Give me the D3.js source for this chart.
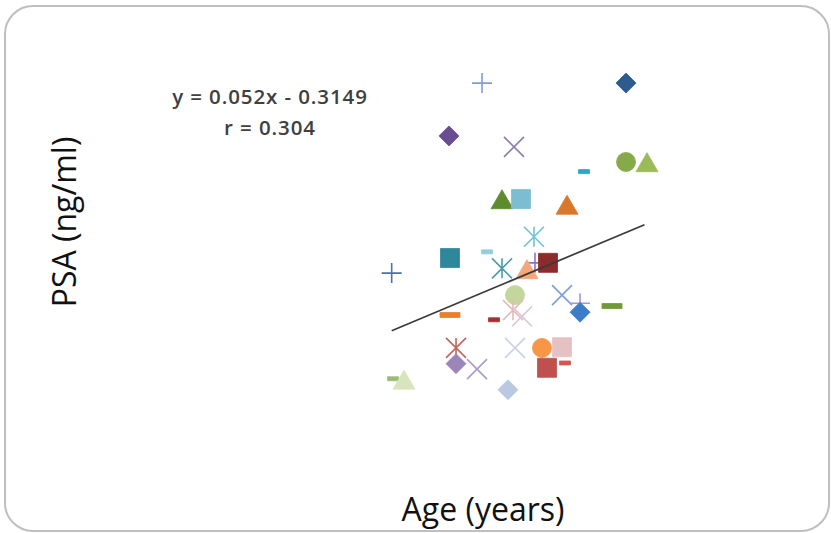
<!DOCTYPE html>
<html>
<head>
<meta charset="utf-8">
<script src="https://cdn.jsdelivr.net/npm/d3@7"></script>
<style>
  html, body { margin: 0; padding: 0; background: #fff; }
  svg { display: block; }
</style>
</head>
<body>
<svg id="chart" width="831" height="533"></svg>
<script>
// ---- Data ----
const ages = [55.71, 72.65, 51.82, 59.47, 67.71, 72.65, 75.12, 58.06, 60.29, 65.71,
              61.82, 51.94, 56.29, 58.06, 61.94, 61.0, 63.47, 45.08, 59.59, 65.12,
              67.24, 67.24, 71.0, 51.94, 57.12, 59.35, 60.41, 52.65, 59.59, 62.76,
              65.12, 52.65, 55.12, 65.47, 63.35, 45.24, 46.53, 58.76];
const psa  = [5.64, 5.64, 4.87, 4.71, 4.35, 4.49, 4.48, 3.94, 3.95, 3.86,
              3.40, 3.09, 3.18, 2.94, 3.02, 2.92, 3.02, 2.87, 2.55, 2.55,
              2.43, 2.30, 2.39, 2.26, 2.19, 2.33, 2.24, 1.78, 1.78, 1.78,
              1.79, 1.55, 1.47, 1.56, 1.49, 1.33, 1.31, 1.17];
// per-series marker style (Excel-like one series per subject)
const markerShapes = ["plus","diamond","diamond","x","shortdash","circle","triangle","triangle","square","triangle",
                      "asterisk","square","shortdash","asterisk","plus","triangle","square","plus","circle","x",
                      "plus","diamond","longdash","longdash","shortdash","asterisk","x","asterisk","x","circle",
                      "square","diamond","x","shortdash","square","shortdash","triangle","diamond"];
const markerColors = ["#7f9ed2","#2c5b8e","#6a4c93","#8c7bab","#31a3c4","#86a94a","#9bbb59","#5f8b2f","#7dbdd1","#d9772b",
                      "#6ec4da","#2f879c","#93cddd","#4b9bab","#8a73c4","#f4a77a","#8b2b2b","#4f6db4","#c3d69b","#7b9fd6",
                      "#a996cf","#3d7cc9","#6f9a35","#e4802f","#a8302e","#e6b9b8","#dcc8dc","#c0665a","#c9cfea","#f79646",
                      "#e6c1c3","#9a86b9","#ab9bcc","#d25757","#c0504d","#9bbb73","#d7e4bd","#b9c9e3"];
const trendSlope = 0.052;
const trendIntercept = -0.3149;
const equationLabel = "y = 0.052x - 0.3149";
const rLabel = "r = 0.304";
const xTitle = "Age (years)";
const yTitle = "PSA (ng/ml)";

// ---- Layout ----
const svg = d3.select("#chart");
const x = d3.scaleLinear().domain([40, 80]).range([348.5, 688.5]);
const y = d3.scaleLinear().domain([0, 6]).range([470, 58.4]);

// chart border
svg.append("rect")
  .attr("x", 5).attr("y", 6).attr("width", 824).attr("height", 525)
  .attr("rx", 28).attr("ry", 28)
  .attr("fill", "#fff").attr("stroke", "#bfbfbf").attr("stroke-width", 2);

const data = ages.map((a, i) => ({age: a, psa: psa[i], shape: markerShapes[i], color: markerColors[i]}));

function shapePath(shape) {
  const h = 10;
  switch (shape) {
    case "square": return `M${-9.5},${-9.5}h19v19h-19z`;
    case "diamond": return `M0,${-10}L10,0L0,10L-10,0Z`;
    case "circle": return d3.symbol(d3.symbolCircle, Math.PI * 9.5 * 9.5)();
    case "triangle": return `M0,${-10}L11,9L-11,9Z`;
    case "plus": return `M${-h},0H${h}M0,${-h}V${h}`;
    case "x": return `M${-h},${-h}L${h},${h}M${-h},${h}L${h},${-h}`;
    case "asterisk": return `M${-h},${-h}L${h},${h}M${-h},${h}L${h},${-h}M0,${-h}V${h}`;
    case "shortdash": return `M-5.5,-2H5.5V2H-5.5Z`;
    case "longdash": return `M-10,-2.5H10V2.5H-10Z`;
  }
}
const stroked = new Set(["plus", "x", "asterisk"]);

svg.append("g").selectAll("path")
  .data(data)
  .join("path")
  .attr("transform", d => `translate(${x(d.age)},${y(d.psa)})`)
  .attr("d", d => shapePath(d.shape))
  .attr("fill", d => stroked.has(d.shape) ? "none" : d.color)
  .attr("stroke", d => d.color)
  .attr("stroke-width", d => stroked.has(d.shape) ? 1.6 : 0.8);

// trendline
const [xmin, xmax] = d3.extent(ages);
svg.append("line")
  .attr("x1", x(xmin)).attr("y1", y(trendSlope * xmin + trendIntercept))
  .attr("x2", x(xmax - 0.3)).attr("y2", y(trendSlope * (xmax - 0.3) + trendIntercept))
  .attr("stroke", "#3a3a3a").attr("stroke-width", 1.7);

// equation text
const eq = svg.append("text")
  .attr("text-anchor", "middle")
  .attr("font-family", "'Open Sans', sans-serif").attr("font-weight", 600)
  .attr("font-size", 20.5).attr("letter-spacing", 0.9).attr("fill", "#404040");
eq.append("tspan").attr("x", 270).attr("y", 104).text(equationLabel);
eq.append("tspan").attr("x", 270).attr("y", 135).text(rLabel);

// axis titles
svg.append("text")
  .attr("x", 483).attr("y", 521).attr("text-anchor", "middle")
  .attr("font-family", "'Open Sans', sans-serif").attr("font-size", 32)
  .attr("fill", "#111").text(xTitle);
svg.append("text")
  .attr("transform", "translate(76,222) rotate(-90)").attr("text-anchor", "middle")
  .attr("font-family", "'Open Sans', sans-serif").attr("font-size", 32)
  .attr("fill", "#111").text(yTitle);
</script>
</body>
</html>
